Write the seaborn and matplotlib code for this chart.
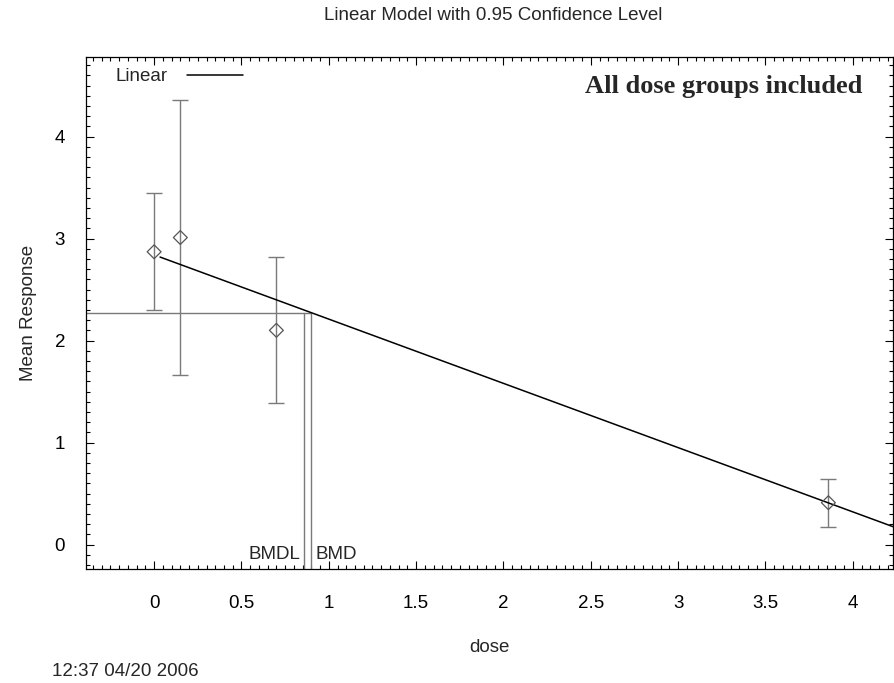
import numpy as np
import pandas as pd
import matplotlib
matplotlib.use("Agg")
import matplotlib.pyplot as plt
from matplotlib.ticker import MultipleLocator
import seaborn as sns

# ---- data ----
doses = [0.0, 0.15, 0.70, 3.86]
means = [2.87, 3.01, 2.10, 0.41]
errs = [0.575, 1.345, 0.715, 0.235]
model_intercept = 2.84
model_slope = -0.63
model_x = [0.034, 4.23]
bmr_level = 2.27
bmd = 0.90
bmdl = 0.86
x_ticks = [0, 0.5, 1, 1.5, 2, 2.5, 3, 3.5, 4]
x_tick_labels = ["0", "0.5", "1", "1.5", "2", "2.5", "3", "3.5", "4"]
y_ticks = [0, 1, 2, 3, 4]
y_tick_labels = ["0", "1", "2", "3", "4"]
title = "Linear Model with 0.95 Confidence Level"
note = "All dose groups included"
stamp = "12:37 04/20 2006"

sns.set_style("ticks")
plt.rcParams["font.family"] = ["Liberation Sans", "DejaVu Sans"]

FS = 13.5
fig = plt.figure(figsize=(8.95, 6.83), dpi=100)
ax = fig.add_axes([86 / 895, 1 - 569 / 683, (893 - 86) / 895, (569 - 57) / 683])

pts = pd.DataFrame({"dose": doses, "mean": means, "err": errs})
model = pd.DataFrame({"dose": model_x,
                      "resp": [model_intercept + model_slope * v for v in model_x]})

gray = "#7a7a7a"
# error bars
ax.errorbar(pts["dose"], pts["mean"], yerr=pts["err"], fmt="none",
            ecolor=gray, elinewidth=1.0, capsize=6, capthick=1.0, zorder=2)
# model line
sns.lineplot(data=model, x="dose", y="resp", ax=ax, color="black",
             linewidth=1.1, label="Linear", zorder=3)
# means
sns.scatterplot(data=pts, x="dose", y="mean", ax=ax, marker="D", s=50,
                facecolor="none", edgecolor="#555555", linewidth=0.9,
                zorder=4, legend=False)

# BMD / BMDL lines
ylo = -0.24
ax.plot([-0.39, bmd], [bmr_level, bmr_level], color=gray, lw=1.0, zorder=1)
ax.plot([bmdl, bmdl], [ylo, bmr_level], color=gray, lw=1.0, zorder=1)
ax.plot([bmd, bmd], [ylo, bmr_level], color=gray, lw=1.0, zorder=1)
ax.text(bmdl - 0.025, -0.10, "BMDL", ha="right", va="center", fontsize=FS)
ax.text(bmd + 0.025, -0.10, "BMD", ha="left", va="center", fontsize=FS)

ax.set_xlim(-0.39, 4.23)
ax.set_ylim(ylo, 4.78)
ax.set_xticks(x_ticks)
ax.set_xticklabels(x_tick_labels)
ax.set_yticks(y_ticks)
ax.set_yticklabels(y_tick_labels)
ax.xaxis.set_minor_locator(MultipleLocator(0.05))
ax.yaxis.set_minor_locator(MultipleLocator(0.1))
ax.tick_params(which="both", direction="in", top=True, right=True,
               labelsize=FS, colors="black")
ax.tick_params(which="major", length=6, width=0.8)
ax.tick_params(which="minor", length=3, width=0.8)
ax.tick_params(axis="x", which="major", pad=19)
ax.tick_params(axis="y", which="major", pad=15)
for s in ax.spines.values():
    s.set_linewidth(0.9)
    s.set_color("black")

ax.set_xlabel("dose", fontsize=FS, labelpad=19)
ax.set_ylabel("Mean Response", fontsize=FS, labelpad=13)

leg = ax.legend(loc="upper left", frameon=False, markerfirst=False,
                fontsize=FS, handlelength=3.0, handletextpad=1.0,
                borderpad=0, borderaxespad=0,
                bbox_to_anchor=((116 - 86) / 807, 1 - (68 - 57) / 512))

ax.text((862 - 86) / 807, 1 - (86 - 57) / 512, note, transform=ax.transAxes,
        ha="right", va="center", fontsize=19, fontweight="bold",
        family=["Liberation Serif"])

fig.text(493 / 895, 1 - 15 / 683, title, ha="center", va="center", fontsize=FS)
fig.text(52 / 895, 1 - 672 / 683, stamp, ha="left", va="center", fontsize=FS)

fig.savefig("out.png", dpi=100)
